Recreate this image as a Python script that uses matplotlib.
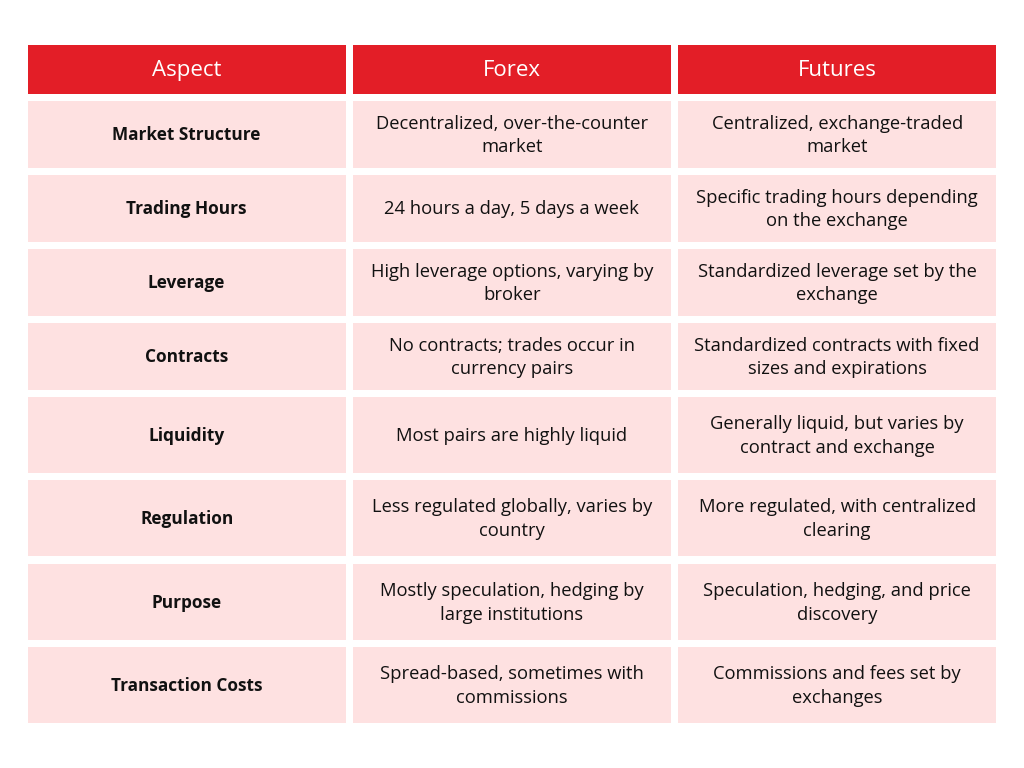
import matplotlib
matplotlib.use("Agg")
import matplotlib.pyplot as plt
from matplotlib.patches import Rectangle

headers = ["Aspect", "Forex", "Futures"]
aspects = ["Market Structure", "Trading Hours", "Leverage", "Contracts",
           "Liquidity", "Regulation", "Purpose", "Transaction Costs"]
forex = ["Decentralized, over-the-counter\nmarket",
         "24 hours a day, 5 days a week",
         "High leverage options, varying by\nbroker",
         "No contracts; trades occur in\ncurrency pairs",
         "Most pairs are highly liquid",
         "Less regulated globally, varies by\ncountry",
         "Mostly speculation, hedging by\nlarge institutions",
         "Spread-based, sometimes with\ncommissions"]
futures = ["Centralized, exchange-traded\nmarket",
           "Specific trading hours depending\non the exchange",
           "Standardized leverage set by the\nexchange",
           "Standardized contracts with fixed\nsizes and expirations",
           "Generally liquid, but varies by\ncontract and exchange",
           "More regulated, with centralized\nclearing",
           "Speculation, hedging, and price\ndiscovery",
           "Commissions and fees set by\nexchanges"]

# layout (pixels)
W, H = 1024, 768
col_x = [27.5, 352.7, 678.0]
col_w = 318.3
header_top, header_h = 45, 49
row_tops = [101, 175, 249, 323, 397, 480, 563.5, 647]
row_hs = [67, 67, 67, 67, 76, 76, 76.5, 75.5]

RED = "#E31E27"
PINK = "#FEE1E1"
FONT = ["Open Sans", "DejaVu Sans"]

fig = plt.figure(figsize=(W / 100, H / 100), dpi=100)
ax = fig.add_axes([0, 0, 1, 1])
ax.set_xlim(0, W)
ax.set_ylim(H, 0)
ax.axis("off")

for j, h in enumerate(headers):
    ax.add_patch(Rectangle((col_x[j], header_top), col_w, header_h,
                           facecolor=RED, edgecolor="none"))
    ax.text(col_x[j] + col_w / 2, header_top + header_h / 2 + 1, h,
            ha="center", va="center", color="white", fontsize=16,
            family=FONT)

for i in range(len(aspects)):
    top, hh = row_tops[i], row_hs[i]
    cells = [aspects[i], forex[i], futures[i]]
    for j, txt in enumerate(cells):
        ax.add_patch(Rectangle((col_x[j], top), col_w, hh,
                               facecolor=PINK, edgecolor="none"))
        ax.text(col_x[j] + col_w / 2, top + hh / 2 + 1, txt,
                ha="center", va="center", color="#111111",
                fontsize=13.2 if j else 12.4,
                fontweight="bold" if j == 0 else "normal",
                linespacing=1.4, family=FONT)

fig.savefig("out.png", dpi=100, facecolor="white")
